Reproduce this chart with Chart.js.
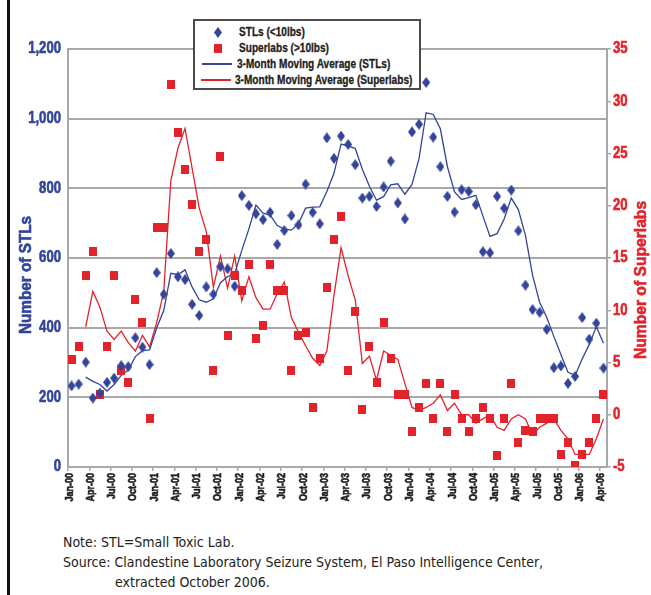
<!DOCTYPE html>
<html>
<head>
<meta charset="utf-8">
<script src="https://cdn.jsdelivr.net/npm/chart.js@4"></script>
<style>
  body { margin: 0; background: #fff; }
  #wrap { position: relative; width: 651px; height: 595px; overflow: hidden; font-family: 'DejaVu Sans Condensed', 'Liberation Sans', sans-serif; }
  #frame { position: absolute; left: 7px; top: 0; width: 3px; height: 595px; background: #111; }
  #chart { position: absolute; left: 0; top: 0; }
  #legend { position: absolute; left: 193px; top: 19px; width: 224px; height: 64px; border: 2px solid #4a4a4a; background: #fff; padding-top: 3px; box-sizing: content-box; }
  .row { height: 16px; display: flex; align-items: center; white-space: nowrap; }
  .mk { width: 34px; margin-left: 6px; display: flex; justify-content: center; align-items: center; }
  .ln { width: 30px; height: 1.5px; }
  .lt { display: inline-block; margin-left: 4px; font: bold 12px 'Liberation Sans', Arial, sans-serif; color: #222; transform: scaleX(0.84); transform-origin: left center; -webkit-text-stroke: 0.3px #222; }
  .note { position: absolute; font-size: 14px; color: #222; line-height: 20px; white-space: nowrap; }
</style>
</head>
<body>
<div id="wrap">
  <div id="frame"></div>
  <canvas id="chart" width="651" height="530"></canvas>
  <div id="legend"></div>
  <div class="note" style="left:63px; top:532px;">Note: STL=Small Toxic Lab.</div>
  <div class="note" style="left:63px; top:552px;">Source: Clandestine Laboratory Seizure System, El Paso Intelligence Center,</div>
  <div class="note" style="left:115px; top:572px;">extracted October 2006.</div>
</div>
<script>
const months = [
  "Jan-00","Feb-00","Mar-00","Apr-00","May-00","Jun-00","Jul-00","Aug-00","Sep-00","Oct-00","Nov-00","Dec-00",
  "Jan-01","Feb-01","Mar-01","Apr-01","May-01","Jun-01","Jul-01","Aug-01","Sep-01","Oct-01","Nov-01","Dec-01",
  "Jan-02","Feb-02","Mar-02","Apr-02","May-02","Jun-02","Jul-02","Aug-02","Sep-02","Oct-02","Nov-02","Dec-02",
  "Jan-03","Feb-03","Mar-03","Apr-03","May-03","Jun-03","Jul-03","Aug-03","Sep-03","Oct-03","Nov-03","Dec-03",
  "Jan-04","Feb-04","Mar-04","Apr-04","May-04","Jun-04","Jul-04","Aug-04","Sep-04","Oct-04","Nov-04","Dec-04",
  "Jan-05","Feb-05","Mar-05","Apr-05","May-05","Jun-05","Jul-05","Aug-05","Sep-05","Oct-05","Nov-05","Dec-05",
  "Jan-06","Feb-06","Mar-06","Apr-06"
];

// STLs (<10lbs), left axis
const stlCounts = [
  233, 238, 301, 198, 212, 243, 255, 291, 288, 371, 344, 294,
  558, 496, 613, 546, 538, 467, 435, 517, 496, 575, 569, 519,
  779, 751, 727, 710, 731, 639, 679, 722, 695, 812, 731, 698,
  945, 886, 950, 926, 868, 772, 777, 748, 804, 878, 758, 712,
  962, 984, 1104, 947, 862, 777, 732, 796, 791, 753, 618, 615,
  777, 743, 795, 678, 522, 452, 444, 395, 285, 290, 240, 260,
  429, 367, 413, 284
];

// Superlabs (>10lbs), right axis
const superlabCounts = [
  5.3, 6.5, 13.3, 15.6, 1.9, 6.5, 13.3, 4.2, 3.1, 11.0, 8.8, -0.4,
  17.9, 17.9, 31.6, 27.0, 23.5, 20.1, 15.6, 16.8, 4.2, 24.7, 7.6, 13.3,
  11.9, 14.4, 7.3, 8.5, 14.4, 11.9, 11.9, 4.2, 7.6, 7.9, 0.7, 5.4,
  12.2, 16.8, 19.0, 4.2, 9.9, 0.5, 6.5, 3.1, 8.8, 5.4, 1.9, 1.9,
  -1.6, 0.7, 3.0, -0.4, 3.0, -1.6, 1.9, -0.4, -1.6, -0.4, 0.7, -0.4,
  -3.9, -0.4, 3.0, -2.7, -1.5, -1.6, -0.4, -0.4, -0.4, -3.8, -2.7, -4.9,
  -3.8, -2.7, -0.4, 1.9
];

// 3-month moving averages as drawn
const stlAverage = [
  null, null, 258, 246, 237, 218, 237, 263, 278, 317, 334, 336,
  399, 449, 556, 552, 566, 517, 480, 473, 483, 529, 547, 554,
  622, 683, 752, 729, 723, 693, 683, 680, 699, 743, 746, 747,
  791, 843, 927, 921, 915, 855, 806, 766, 776, 810, 813, 783,
  811, 886, 1017, 1012, 971, 862, 790, 768, 773, 780, 721, 662,
  670, 712, 772, 739, 665, 551, 473, 430, 375, 323, 272, 263,
  310, 352, 403, 355
];

const superlabAverage = [
  null, null, 8.4, 11.8, 10.3, 8.0, 7.2, 8.0, 6.9, 6.1, 7.6, 6.5,
  8.8, 11.8, 22.4, 25.5, 27.4, 23.6, 19.8, 17.5, 12.2, 15.2, 12.1, 15.2,
  10.9, 13.2, 11.2, 10.1, 10.1, 11.6, 12.7, 9.3, 7.9, 6.6, 5.4, 4.7,
  6.1, 11.4, 16.0, 13.3, 11.0, 4.9, 5.6, 3.3, 6.1, 5.7, 5.3, 3.0,
  0.7, 0.4, 0.7, 1.1, 1.9, 0.4, 1.1, 0.0, 0.0, -0.8, -0.4, 0.0,
  -1.2, -1.5, -0.4, 0.0, -0.4, -1.9, -1.2, -0.8, -0.4, -1.5, -2.3, -3.8,
  -3.8, -3.8, -2.3, -0.4
];

const stlTicks = [0, 200, 400, 600, 800, 1000, 1200];
const superlabTicks = [-5, 0, 5, 10, 15, 20, 25, 30, 35];

const BLUE = "#33449a";
const RED = "#e3232b";
const GRID = "#a8a8a8";
const LABEL_FONT = "'Liberation Sans', Arial, sans-serif";
const NARROW = 0.82; // the report uses a condensed face

function makeMarker(w, h, color, diamond) {
  const c = document.createElement("canvas");
  c.width = w;
  c.height = h;
  const g = c.getContext("2d");
  g.fillStyle = color;
  if (diamond) {
    g.beginPath();
    g.moveTo(w / 2, 0);
    g.lineTo(w, h / 2);
    g.lineTo(w / 2, h);
    g.lineTo(0, h / 2);
    g.closePath();
    g.fill();
  } else {
    g.fillRect(0, 0, w, h);
  }
  return c;
}

const diamondMark = makeMarker(8, 11, BLUE, true);
const squareMark = makeMarker(8, 9, RED, false);

function narrowText(g, text, x, y, angle, align, font, color, squeeze) {
  g.save();
  g.font = font;
  g.fillStyle = color;
  g.strokeStyle = color;
  g.lineWidth = 0.6;
  g.textAlign = align;
  g.textBaseline = "middle";
  g.translate(x, y);
  g.rotate(angle);
  g.scale(squeeze, 1);
  g.fillText(text, 0, 0);
  g.strokeText(text, 0, 0);
  g.restore();
}

// tick labels and axis titles drawn in a squeezed heavy face
const axisText = {
  id: "axisText",
  afterDraw(chart) {
    const g = chart.ctx;
    const { x, y, y2 } = chart.scales;

    y.ticks.forEach((t) => {
      narrowText(g, t.value.toLocaleString("en-US"), y.right - 7, y.getPixelForValue(t.value),
        0, "right", "bold 16px " + LABEL_FONT, BLUE, NARROW);
    });
    y2.ticks.forEach((t) => {
      narrowText(g, String(t.value), y2.left + 6, y2.getPixelForValue(t.value),
        0, "left", "bold 16px " + LABEL_FONT, RED, NARROW);
    });

    const step = x.getPixelForTick(1) - x.getPixelForTick(0);
    months.forEach((m, i) => {
      if (i % 3 !== 0) return;
      const px = x.getPixelForTick(i) - step / 2 + 1.5;
      narrowText(g, m, px, x.top + 6, -Math.PI / 2, "right",
        "bold 11px " + LABEL_FONT, "#1e1e1e", NARROW);
    });

    const mid = (chart.chartArea.top + chart.chartArea.bottom) / 2;
    narrowText(g, "Number of STLs", 26, mid + 17, -Math.PI / 2, "center",
      "bold 17px " + LABEL_FONT, BLUE, 0.9);
    narrowText(g, "Number of Superlabs", 641, mid + 22, -Math.PI / 2, "center",
      "bold 17px " + LABEL_FONT, RED, 0.92);
  }
};

const datasets = [
  {
    label: "3-Month Moving Average (STLs)",
    data: stlAverage,
    yAxisID: "y",
    borderColor: BLUE,
    borderWidth: 1.3,
    pointRadius: 0,
    tension: 0,
    order: 3
  },
  {
    label: "3-Month Moving Average (Superlabs)",
    data: superlabAverage,
    yAxisID: "y2",
    borderColor: RED,
    borderWidth: 1.3,
    pointRadius: 0,
    tension: 0,
    order: 4
  },
  {
    label: "STLs (<10lbs)",
    data: stlCounts,
    yAxisID: "y",
    showLine: false,
    pointStyle: diamondMark,
    pointRadius: 5,
    order: 1
  },
  {
    label: "Superlabs (>10lbs)",
    data: superlabCounts,
    yAxisID: "y2",
    showLine: false,
    pointStyle: squareMark,
    pointRadius: 5,
    order: 2
  }
];

const ctx = document.getElementById("chart");
const chart = new Chart(ctx, {
  type: "line",
  data: { labels: months, datasets: datasets },
  options: {
    responsive: false,
    animation: false,
    layout: { padding: { top: 49, left: 0, right: 0, bottom: 0 } },
    plugins: {
      legend: { display: false },
      tooltip: { enabled: false }
    },
    scales: {
      x: {
        offset: true,
        grid: {
          offset: true,
          drawOnChartArea: false,
          tickLength: 4,
          lineWidth: 1.5,
          tickColor: (c) => (c.index % 3 === 0 ? GRID : "rgba(0,0,0,0)")
        },
        border: { color: GRID, width: 2 },
        ticks: { display: false, autoSkip: false },
        afterFit: (s) => { s.height = 63; }
      },
      y: {
        position: "left",
        min: stlTicks[0],
        max: stlTicks[stlTicks.length - 1],
        afterBuildTicks: (s) => { s.ticks = stlTicks.map((v) => ({ value: v })); },
        grid: { color: GRID, lineWidth: 2, drawTicks: false },
        border: { color: GRID, width: 2 },
        ticks: { display: false },
        afterFit: (s) => { s.width = 68; }
      },
      y2: {
        position: "right",
        min: superlabTicks[0],
        max: superlabTicks[superlabTicks.length - 1],
        afterBuildTicks: (s) => { s.ticks = superlabTicks.map((v) => ({ value: v })); },
        grid: { drawOnChartArea: false, color: GRID, lineWidth: 1.5, tickLength: 4 },
        border: { color: GRID, width: 2 },
        ticks: { display: false },
        afterFit: (s) => { s.width = 44; }
      }
    }
  },
  plugins: [axisText]
});

// legend box drawn over the top of the plot, as in the report
const legendEl = document.getElementById("legend");
const legendOrder = [2, 3, 0, 1];
legendOrder.forEach((k) => {
  const ds = datasets[k];
  const row = document.createElement("div");
  row.className = "row";
  const mk = document.createElement("span");
  mk.className = "mk";
  if (ds.pointStyle) {
    const img = document.createElement("img");
    img.src = ds.pointStyle.toDataURL();
    mk.appendChild(img);
  } else {
    const ln = document.createElement("span");
    ln.className = "ln";
    ln.style.background = ds.borderColor;
    mk.appendChild(ln);
  }
  const txt = document.createElement("span");
  txt.className = "lt";
  txt.textContent = ds.label;
  row.appendChild(mk);
  row.appendChild(txt);
  legendEl.appendChild(row);
});
</script>
</body>
</html>
